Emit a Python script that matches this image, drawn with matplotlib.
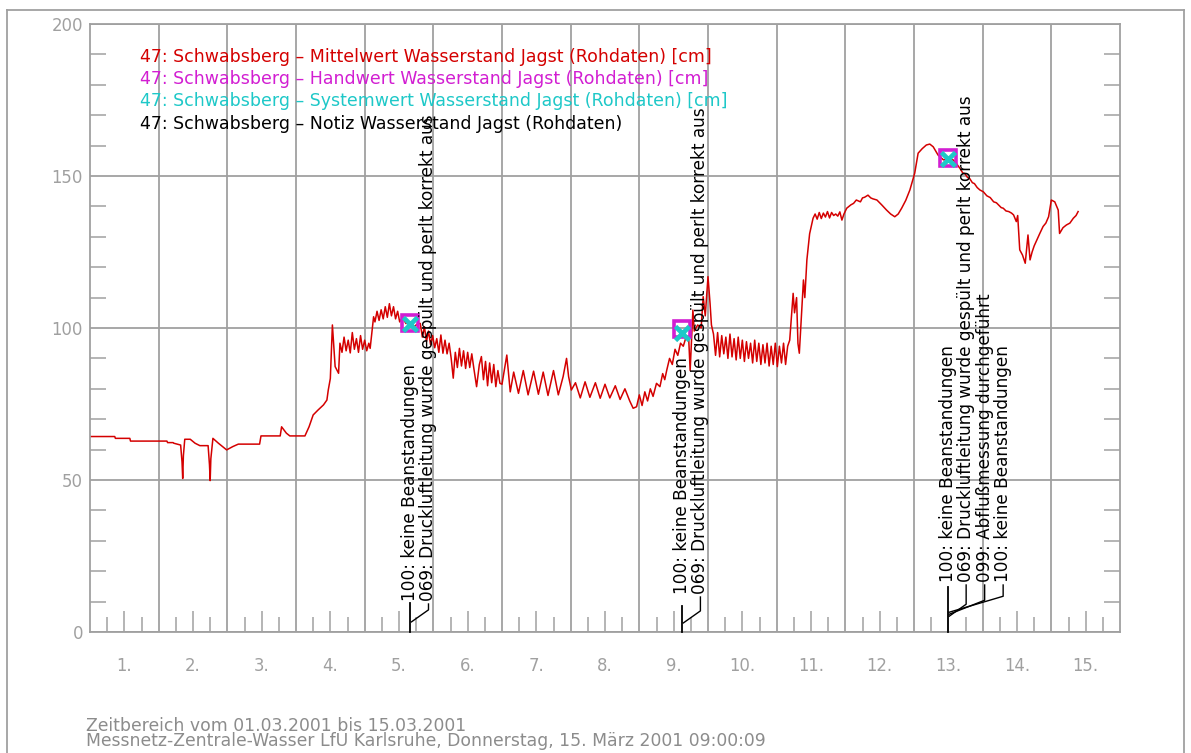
import matplotlib
matplotlib.use("Agg")
import matplotlib.pyplot as plt
from matplotlib.lines import Line2D

# ------------------------------------------------------------------ data
day_labels = [f"{d}." for d in range(1, 16)]

legend_labels = [
    "47: Schwabsberg \u2013 Mittelwert Wasserstand Jagst (Rohdaten) [cm]",
    "47: Schwabsberg \u2013 Handwert Wasserstand Jagst (Rohdaten) [cm]",
    "47: Schwabsberg \u2013 Systemwert Wasserstand Jagst (Rohdaten) [cm]",
    "47: Schwabsberg \u2013 Notiz Wasserstand Jagst (Rohdaten)",
]

footer_lines = [
    "Zeitbereich vom 01.03.2001 bis 15.03.2001",
    "Messnetz-Zentrale-Wasser LfU Karlsruhe, Donnerstag, 15. M\u00e4rz 2001 09:00:09",
]

# Mittelwert (time in days since 01.03.2001 00:00, value in cm)
t_days1_4 = [0.00, 0.36, 0.37, 0.58, 0.59, 1.12, 1.13, 1.21, 1.22, 1.32, 1.34, 1.35,
             1.36, 1.38, 1.46, 1.53, 1.60, 1.72, 1.74, 1.75, 1.76, 1.79, 1.87, 1.99,
             2.08, 2.16, 2.47, 2.49, 2.77, 2.79, 2.86, 2.91, 3.13, 3.19, 3.25, 3.32,
             3.40, 3.45]
v_days1_4 = [64.3, 64.3, 63.7, 63.7, 62.8, 62.8, 62.3, 62.3, 62.1, 61.5, 56.0, 50.5,
             58.0, 63.4, 63.4, 62.1, 61.3, 61.3, 55.0, 49.8, 57.0, 63.7, 62.1, 59.9,
             61.0, 61.8, 61.8, 64.5, 64.5, 67.5, 65.4, 64.5, 64.5, 67.5, 71.4, 73.0,
             74.7, 76.3]

t_days4_5 = [3.47, 3.50, 3.53, 3.57, 3.62, 3.64, 3.67, 3.70, 3.73, 3.76, 3.79, 3.82,
             3.85, 3.88, 3.91, 3.94, 3.97, 4.00, 4.03, 4.06, 4.08, 4.13, 4.15, 4.18,
             4.21, 4.24, 4.27, 4.30, 4.33, 4.36, 4.39, 4.42, 4.45, 4.48, 4.51, 4.55,
             4.60, 4.66, 4.72, 4.78]
v_days4_5 = [79.6, 83.4, 101.0, 87.3, 85.1, 95.0, 92.0, 97.0, 92.5, 96.0, 91.8, 98.5,
             93.0, 96.5, 92.0, 97.5, 93.0, 96.0, 92.5, 95.0, 93.3, 103.7, 102.0, 105.5,
             102.5, 106.0, 103.0, 107.0, 103.5, 108.0, 104.0, 107.0, 103.0, 105.5, 102.0, 103.5,
             101.5, 101.6, 100.5, 101.5]

t_days5_7 = [4.81, 4.84, 4.87, 4.90, 4.93, 4.96, 4.99, 5.02, 5.05, 5.08, 5.11, 5.14,
             5.17, 5.20, 5.23, 5.26, 5.29, 5.32, 5.35, 5.38, 5.41, 5.44, 5.47, 5.50,
             5.53, 5.56, 5.59, 5.63, 5.67, 5.70, 5.73, 5.76, 5.79, 5.82, 5.85, 5.88,
             5.91, 5.94, 5.97, 6.00, 6.07, 6.12, 6.17, 6.24, 6.31, 6.38, 6.46, 6.53,
             6.60, 6.67, 6.75, 6.82, 6.89, 6.94, 6.97, 7.01]
v_days5_7 = [101.5, 97.0, 100.4, 95.5, 99.0, 94.5, 97.5, 93.5, 96.5, 92.0, 97.7, 91.7,
             96.0, 91.5, 95.0, 90.0, 83.5, 92.0, 87.0, 93.3, 87.5, 92.5, 86.7, 92.0,
             87.0, 91.5, 86.7, 80.7, 88.0, 90.6, 83.0, 89.0, 81.0, 88.5, 82.0, 88.0,
             80.7, 86.0, 81.8, 81.5, 91.1, 79.0, 85.5, 78.5, 86.0, 78.0, 85.8, 78.2,
             85.5, 77.8, 86.0, 78.0, 84.0, 90.0, 84.0, 79.6]

t_days8_9 = [7.07, 7.14, 7.21, 7.28, 7.36, 7.43, 7.50, 7.57, 7.65, 7.72, 7.79, 7.86,
             7.91, 7.96, 8.00, 8.04, 8.08, 8.12, 8.16, 8.20, 8.25, 8.30, 8.34, 8.37,
             8.40, 8.44, 8.48, 8.52, 8.56, 8.60, 8.64, 8.68, 8.72, 8.74, 8.76, 8.78,
             8.80, 8.85, 8.90, 8.93, 8.96, 9.00, 9.03, 9.05]
v_days8_9 = [82.0, 77.0, 82.3, 77.2, 82.0, 76.9, 81.5, 77.0, 81.0, 76.5, 80.0, 76.0,
             73.6, 74.1, 78.0, 74.5, 79.0, 76.0, 80.0, 77.5, 81.8, 80.7, 85.0, 83.0,
             86.2, 90.0, 88.0, 93.0, 91.0, 95.0, 94.0, 97.0, 96.0, 86.0, 96.0, 105.9,
             99.0, 101.0, 100.0, 110.3, 104.0, 116.9, 108.1, 101.0]

t_days10_11 = [9.08, 9.11, 9.14, 9.17, 9.20, 9.23, 9.26, 9.29, 9.32, 9.35, 9.38, 9.41,
               9.44, 9.47, 9.50, 9.53, 9.56, 9.59, 9.62, 9.65, 9.68, 9.71, 9.74, 9.77,
               9.80, 9.83, 9.86, 9.89, 9.92, 9.95, 9.98, 10.01, 10.04, 10.07, 10.10, 10.13,
               10.16, 10.19, 10.24, 10.26, 10.29, 10.31, 10.33, 10.39, 10.41, 10.44, 10.48, 10.53,
               10.56, 10.59, 10.62, 10.65, 10.68, 10.71, 10.74, 10.77, 10.80, 10.83, 10.86, 10.89,
               10.92, 10.95, 10.98]
v_days10_11 = [98.0, 91.0, 98.5, 90.5, 97.5, 91.5, 97.0, 90.0, 98.0, 90.5, 96.5, 89.5,
               97.0, 90.0, 96.0, 89.0, 95.5, 90.0, 95.0, 88.5, 96.0, 89.0, 95.0, 88.0,
               94.5, 88.5, 95.0, 87.5, 94.0, 88.0, 95.0, 87.3, 94.0, 88.5, 95.0, 88.0,
               94.0, 96.0, 111.4, 105.0, 110.0, 94.9, 91.7, 115.8, 110.0, 122.4, 131.0, 136.1,
               137.5, 135.8, 138.0, 136.0, 137.8, 136.5, 138.3, 136.2, 138.0, 137.0, 137.5, 136.8,
               138.2, 135.5, 137.5]

t_days12_15 = [11.02, 11.08, 11.12, 11.16, 11.22, 11.25, 11.28, 11.33, 11.37, 11.40, 11.46, 11.53,
               11.60, 11.66, 11.72, 11.77, 11.82, 11.88, 11.94, 12.01, 12.06, 12.12, 12.18, 12.23,
               12.28, 12.35, 12.43, 12.50, 12.57, 12.62, 12.67, 12.71, 12.74, 12.78, 12.81, 12.85,
               12.88, 12.92, 12.96, 13.01, 13.06, 13.11, 13.16, 13.20, 13.23, 13.27, 13.30, 13.34,
               13.38, 13.42, 13.45, 13.49, 13.51, 13.54, 13.58, 13.62, 13.66, 13.69, 13.72, 13.75,
               13.79, 13.83, 13.88, 13.92, 13.96, 14.00, 14.05, 14.10, 14.12, 14.17, 14.22, 14.27,
               14.32, 14.36, 14.39]
v_days12_15 = [139.4, 140.5, 141.0, 142.1, 141.5, 142.8, 143.0, 143.7, 142.8, 142.5, 142.1, 140.5,
               138.8, 137.5, 136.6, 137.5, 139.4, 142.0, 145.4, 150.9, 157.5, 159.0, 160.2, 160.5,
               159.6, 156.9, 155.3, 155.5, 155.3, 154.0, 152.5, 151.0, 150.8, 149.5, 149.2, 147.8,
               147.5, 146.2, 145.4, 144.8, 143.5, 142.9, 141.5, 141.2, 140.5, 139.6, 139.4, 138.5,
               138.3, 137.8, 137.2, 135.0, 137.0, 125.7, 124.0, 121.3, 130.6, 122.4, 125.0, 127.0,
               129.0, 131.0, 133.4, 134.5, 136.6, 142.1, 141.5, 138.8, 131.1, 133.0, 133.9, 134.5,
               136.1, 137.0, 138.3]

# Handwert / Systemwert
hand_t = [4.66, 8.62, 12.49]
hand_v = [101.8, 99.6, 155.8]
sys_t = [4.66, 8.62, 12.49]
sys_v = [101.4, 98.4, 155.6]

# Notizen
note_t = [4.66, 8.62, 12.49]
note_texts = [
    ["100: keine Beanstandungen",
     "069: Druckluftleitung wurde gesp\u00fclt und perlt korrekt aus"],
    ["100: keine Beanstandungen",
     "069: Druckluftleitung wurde gesp\u00fclt und perlt korrekt aus"],
    ["100: keine Beanstandungen",
     "069: Druckluftleitung wurde gesp\u00fclt und perlt korrekt aus",
     "099: Abflu\u00dfmessung durchgef\u00fchrt",
     "100: keine Beanstandungen"],
]

# ------------------------------------------------------------------ style / layout
W, H = 1191, 753
RED = "#d40000"
MAG = "#d21ed2"
CYAN = "#1ec8c8"
GRAY = "#a0a0a0"
FOOT = "#8c8c8c"
plt.rcParams["font.family"] = ["DejaVu Sans"]

AX_L, AX_R, AX_T, AX_B = 90, 1120, 24, 632
XMAX, YMAX = 15, 200
PX_T = XMAX / (AX_R - AX_L)
PX_V = YMAX / (AX_B - AX_T)

note_line_h = [29, 26, 45]
note_text_off = [31, 38, 50]
note_step = 18.5

fig = plt.figure(figsize=(W / 100, H / 100), dpi=100)
ax = fig.add_axes([AX_L / W, (H - AX_B) / H, (AX_R - AX_L) / W, (AX_B - AX_T) / H])
ax.set_xlim(0, XMAX)
ax.set_ylim(0, YMAX)

for s in ax.spines.values():
    s.set_color(GRAY)
    s.set_linewidth(1.3)

ax.set_yticks([0, 50, 100, 150, 200])
ax.set_yticks([v for v in range(10, 200, 10) if v % 50], minor=True)
ax.grid(axis="y", which="major", color=GRAY, lw=1.3)
for d in range(1, XMAX):
    ax.axvline(d, color=GRAY, lw=1.3, zorder=0.5)

ax.set_xticks([d + 0.5 for d in range(XMAX)])
ax.set_xticklabels(day_labels)
ax.set_xticks([d + q for d in range(XMAX) for q in (0.25, 0.75)], minor=True)
ax.tick_params(axis="x", which="major", direction="in", length=15, width=1.1,
               color=GRAY, labelcolor=GRAY, pad=18)
ax.tick_params(axis="x", which="minor", direction="in", length=11, width=1.1, color=GRAY)
ax.tick_params(axis="y", which="major", length=0, pad=5, labelcolor=GRAY)
ax.tick_params(axis="y", which="minor", direction="in", length=11.5, width=1.1,
               color=GRAY, left=True, right=True)

# main series
t_all = t_days1_4 + t_days4_5 + t_days5_7 + t_days8_9 + t_days10_11 + t_days12_15
v_all = v_days1_4 + v_days4_5 + v_days5_7 + v_days8_9 + v_days10_11 + v_days12_15
ax.plot(t_all, v_all, color=RED, lw=1.1, zorder=2)

ax.plot(hand_t, hand_v, ls="none", marker="s", ms=11.5, mfc="none", mec=MAG, mew=2.6, zorder=3)
ax.plot(sys_t, sys_v, ls="none", marker="x", ms=9.5, mec=CYAN, mew=3.4, zorder=4)

# legend texts (fit font size to reference width)
leg_cols = [RED, MAG, CYAN, "black"]
leg_base = [61.5, 84, 106.5, 129]
leg_objs = []
for lab, col, yb in zip(legend_labels, leg_cols, leg_base):
    leg_objs.append(fig.text(140 / W, 1 - yb / H, lab, color=col, va="baseline",
                             ha="left", fontsize=11))
r = fig.canvas.get_renderer()
w0 = leg_objs[0].get_window_extent(renderer=r).width
fs = 11 * 572 / w0
for t in leg_objs:
    t.set_fontsize(fs)
for lab in ax.get_xticklabels() + ax.get_yticklabels():
    lab.set_fontsize(fs * 0.95)

# notes
nfs = fs * 0.97
for g, x0 in enumerate(note_t):
    lh = note_line_h[g]
    to = note_text_off[g]
    ax.plot([x0, x0], [0, lh * PX_V], color="black", lw=1.3, zorder=5, clip_on=False)
    for i, txt in enumerate(note_texts[g]):
        xi = x0 + i * note_step * PX_T
        ax.text(xi, to * PX_V, txt, rotation=90, ha="center", va="bottom",
                fontsize=nfs, color="black", zorder=6)
        if i > 0:
            s0 = 0.35 * lh + 2 * (i - 1)
            s1 = s0 + 12 + 2 * (i - 1)
            top = to - 3
            ax.plot([x0 + 1.5 * PX_T, xi, xi], [s0 * PX_V, s1 * PX_V, top * PX_V],
                    color="black", lw=1.0, zorder=5)

# footer (one two-line text block, baseline of last line)
foot = fig.text(86 / W, 1 - 746.5 / H, "\n".join(footer_lines), color=FOOT,
                va="baseline", ha="left", fontsize=11, linespacing=0.85)
wf = foot.get_window_extent(renderer=r).width
foot.set_fontsize(11 * 677 / wf)

# outer frame
fx0, fx1, fy = 7 / W, 1184 / W, 1 - 10 / H
for xs, ys in [([fx0, fx0], [0, fy]), ([fx0, fx1], [fy, fy]), ([fx1, fx1], [fy, 0])]:
    fig.add_artist(Line2D(xs, ys, color=GRAY, lw=1.3))

fig.savefig("out.png", dpi=100)
